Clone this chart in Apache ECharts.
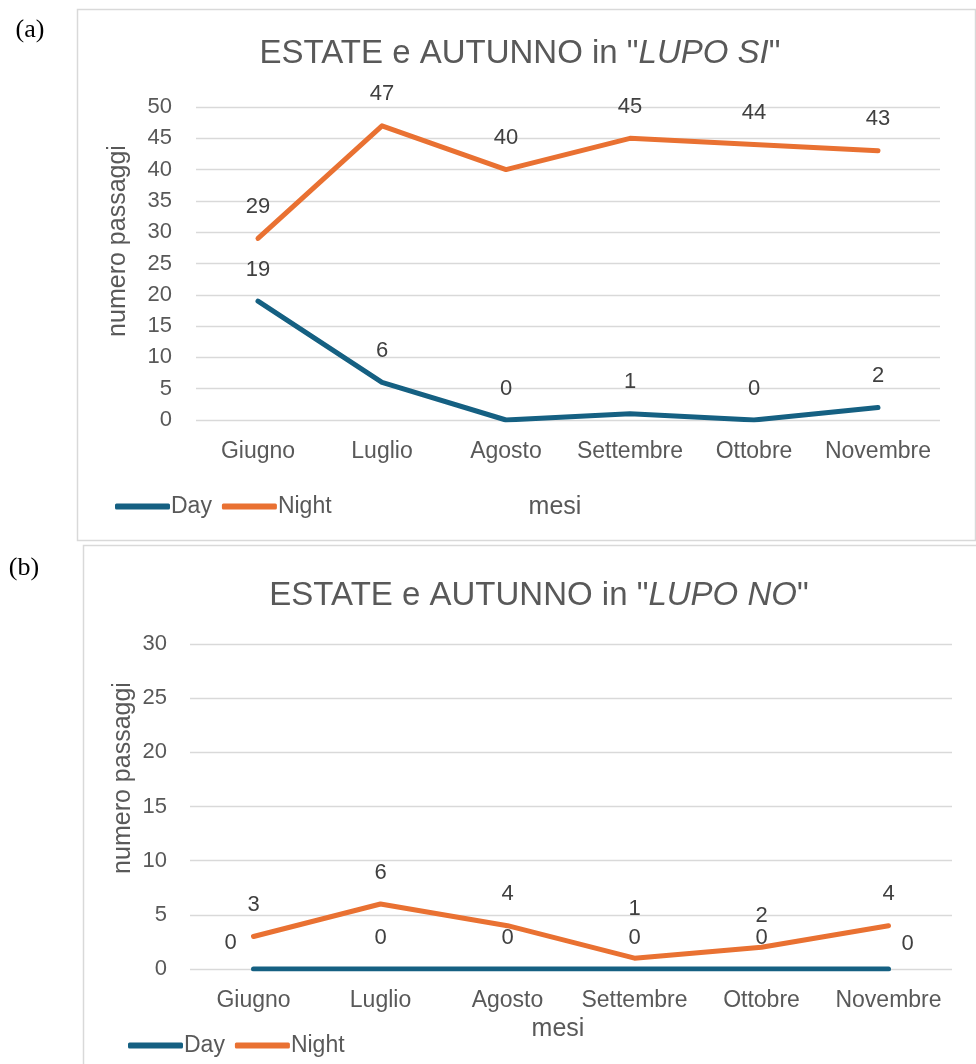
<!DOCTYPE html>
<html><head><meta charset="utf-8">
<script src="https://cdn.jsdelivr.net/npm/echarts@6/dist/echarts.min.js"></script>
<style>html,body{margin:0;padding:0;background:#fff}#c{width:976px;height:1064px}</style>
</head><body><div id="c"></div>
<script>
const months = ['Giugno','Luglio','Agosto','Settembre','Ottobre','Novembre'];
const daySi = [19, 6, 0, 1, 0, 2];
const nightSi = [29, 47, 40, 45, 44, 43];
const dayNo = [0, 0, 0, 0, 0, 0];
const nightNo = [3, 6, 4, 1, 2, 4];
const titleA = 'ESTATE e AUTUNNO in "{i|LUPO SI}"';
const titleB = 'ESTATE e AUTUNNO in "{i|LUPO NO}"';
const yName = 'numero passaggi';
const xName = 'mesi';

const FONT = 'Liberation Sans';
const DAY = '#156082', NIGHT = '#E97132', TXT = '#595959', LBL = '#404040';
const chart = echarts.init(document.getElementById('c'));

function titleOpt(text, x, y){
  return {text, left: x, top: y, textAlign: 'center',
    textStyle:{fontFamily:FONT, fontSize:33, fontWeight:'normal', color:TXT,
      rich:{i:{fontFamily:FONT, fontSize:33, fontStyle:'italic', color:TXT}}}};
}
function xAx(gi, gap){
  return {type:'category', gridIndex:gi, data:months, boundaryGap:true,
    axisLine:{show:false}, axisTick:{show:false},
    axisLabel:{fontFamily:FONT, fontSize:23, color:TXT, margin:20, interval:0, hideOverlap:false},
    name:xName, nameLocation:'middle', nameGap:gap,
    nameTextStyle:{fontFamily:FONT, fontSize:25, color:TXT, padding:[0,26,0,0]}};
}
function yAx(gi, max, m){
  return {type:'value', gridIndex:gi, min:0, max:max, interval:5,
    axisLine:{show:false}, axisTick:{show:false},
    axisLabel:{fontFamily:FONT, fontSize:22, color:TXT, margin:m},
    splitLine:{lineStyle:{color:'#d9d9d9', width:1.3}}};
}
function lbl(){ return {show:true, position:'top', distance:20, fontFamily:FONT, fontSize:22, color:LBL}; }
function ser(name, vals, color, gi, custom, z){
  return {name, type:'line', xAxisIndex:gi, yAxisIndex:gi, symbol:'circle', symbolSize:1, showSymbol:true,
    lineStyle:{width:5, color, cap:'round', join:'round'}, itemStyle:{color},
    label:lbl(), z: z || 2,
    data: vals.map((v,i)=> custom && custom[i] ? {value:v, label:custom[i]} : v)};
}
function legendOpt(x, y){
  return {data:['Day','Night'], left:x, top:y, icon:'roundRect', itemWidth:55, itemHeight:6,
    itemGap:10, textStyle:{fontFamily:FONT, fontSize:23, color:TXT, padding:[0,0,0,-4]}};
}

chart.setOption({
  animation:false,
  title:[titleOpt(titleA, 515, 32), titleOpt(titleB, 534, 574)],
  legend:[legendOpt(110, 490), legendOpt(123, 1029)],
  grid:[{left:196, right:36, top:107, height:313},
        {left:190, right:24, top:644, height:325}],
  xAxis:[xAx(0, 75), xAx(1, 48)],
  yAxis:[yAx(0, 50, 24), yAx(1, 30, 23)],
  series:[
    ser('Day', daySi, DAY, 0),
    ser('Night', nightSi, NIGHT, 0),
    ser('Day', dayNo, DAY, 1, {0:{offset:[-23, 5]}, 5:{offset:[19, 6]}}),
    ser('Night', nightNo, NIGHT, 1, {3:{offset:[0, -18]}}, 3)
  ],
  graphic:[
    {type:'rect', shape:{x:77.5, y:9.5, width:898, height:531}, style:{fill:'none', stroke:'#d9d9d9', lineWidth:1.5}, z:-1},
    {type:'rect', shape:{x:83.5, y:545.5, width:900, height:530}, style:{fill:'none', stroke:'#d9d9d9', lineWidth:1.5}, z:-1},
    {type:'text', x:30, y:30, style:{text:'(a)', font:'26px "Liberation Serif"', fill:'#000', align:'center', verticalAlign:'middle'}},
    {type:'text', x:24, y:568, style:{text:'(b)', font:'26px "Liberation Serif"', fill:'#000', align:'center', verticalAlign:'middle'}},
    {type:'text', x:118, y:241, rotation:Math.PI/2, style:{text:yName, font:'25px "Liberation Sans"', fill:TXT, align:'center', verticalAlign:'middle'}},
    {type:'text', x:123, y:778, rotation:Math.PI/2, style:{text:yName, font:'25px "Liberation Sans"', fill:TXT, align:'center', verticalAlign:'middle'}}
  ]
});
</script></body></html>
